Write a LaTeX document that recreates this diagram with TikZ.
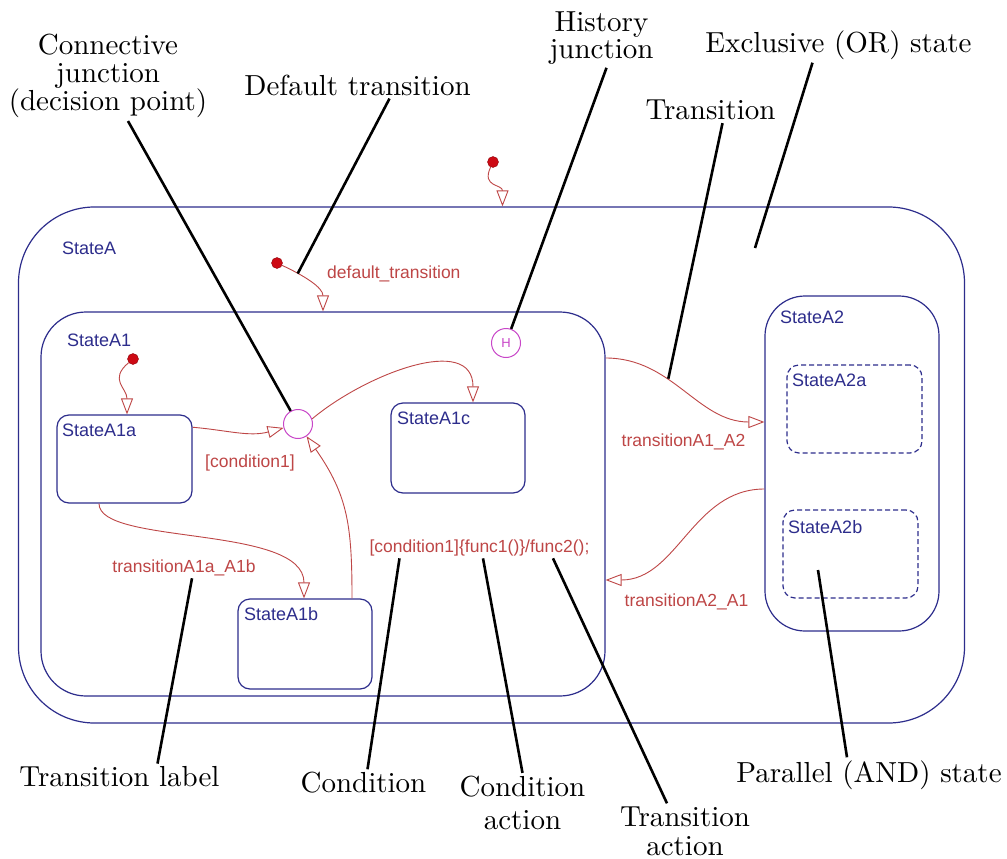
\documentclass[tikz,border=0pt]{standalone}
\usepackage{fontspec}
\newfontfamily\sansfnt{Liberation Sans}
\newfontfamily\notefnt{lmroman10-regular.otf}
\usepackage{tikz}
\usetikzlibrary{positioning}
\usetikzlibrary{calc,arrows.meta}
\definecolor{stblue}{RGB}{45,45,140}
\definecolor{trred}{RGB}{190,70,70}
\definecolor{jmag}{RGB}{200,70,200}
\definecolor{dotred}{RGB}{205,10,20}

\begin{document}
\begin{tikzpicture}[x=1pt,y=-1pt,
  stbox/.style={draw=stblue,line width=1.2pt,rounded corners=12pt,inner sep=0pt},
  substbox/.style={stbox,dashed,dash pattern=on 5pt off 3pt},
  junc/.style={shape=circle,draw=jmag,line width=1pt,minimum size=29pt,inner sep=0pt},
  inidot/.style={shape=circle,fill=dotred,draw=dotred!70!black,minimum size=11pt,inner sep=0pt},
  trans/.style={draw=trred,line width=0.9pt,-{Triangle[open,length=16pt,width=12pt]}},
  stlbl/.style={text=stblue,font=\sansfnt\fontsize{18}{20}\selectfont,inner sep=0pt,anchor=west},
  trlbl/.style={text=trred,font=\sansfnt\fontsize{17.5}{20}\selectfont,inner sep=2pt},
  note/.style={font=\notefnt\fontsize{29}{28}\selectfont,align=center,inner sep=3pt},
  lead/.style={draw=black,line width=2.6pt}]
\path[fill=white] (0,0) rectangle (1007,859);
\useasboundingbox (0,0) rectangle (1007,859);
% states and junctions
\path
(491.5,465) node [stbox,minimum width=946pt,minimum height=516pt,rounded corners=76pt](sA){}
(323,504) node [stbox,minimum width=564pt,minimum height=384pt,rounded corners=45pt](sA1){}
(124.5,459) node [stbox,minimum width=135pt,minimum height=88pt](sA1a){}
(305,644) node [stbox,minimum width=134pt,minimum height=90pt](sA1b){}
(458,448) node [stbox,minimum width=134pt,minimum height=90pt](sA1c){}
(852,463.5) node [stbox,minimum width=174pt,minimum height=335pt,rounded corners=40pt](sA2){}
(854.5,409) node [substbox,minimum width=135pt,minimum height=88pt](sA2a){}
(850.5,554) node [substbox,minimum width=135pt,minimum height=88pt](sA2b){}
(506,343) node [junc,text=jmag,font=\sansfnt\fontsize{13}{13}\selectfont](hj){H}
(298,424) node [junc](cj){}
(493,162) node [inidot](d0){}
(277,263) node [inidot](d1){}
(133,359) node [inidot](d2){};
\path
(62,248) node [stlbl](lA){StateA}
(67,340) node [stlbl](lA1){StateA1}
(62,430) node [stlbl](lA1a){StateA1a}
(244,614) node [stlbl](lA1b){StateA1b}
(397,418) node [stlbl](lA1c){StateA1c}
(780,317) node [stlbl](lA2){StateA2}
(792,380) node [stlbl](lA2a){StateA2a}
(788,527) node [stlbl](lA2b){StateA2b};
% transitions
\draw [trans](d0) to[out=-115,in=90,looseness=1.4] ([xshift=11pt]sA.north);
\draw [trans](d1) to[out=-25,in=90] coordinate[pos=0.25](dtpt) (sA1.north);
\draw [trans](d2) to[out=-140,in=90,looseness=1.3] ([xshift=2.5pt]sA1a.north);
\draw [trans](sA1a.25) to[out=-5,in=195] (cj);
\draw [trans](cj.20) to[out=40,in=90,looseness=1.1] ([xshift=15pt]sA1c.north);
\draw [trans]([xshift=-25.5pt]sA1a.south) .. controls +(0,42) and +(0,-74) .. ([xshift=-1pt]sA1b.north);
\draw [trans]([xshift=47pt]sA1b.north) to[out=90,in=-55,looseness=1.1] (cj);
\draw [trans]([yshift=146pt]sA1.east) to[out=0,in=180] coordinate[pos=0.38](trpt) ([yshift=41.5pt]sA2.west);
\draw [trans]([yshift=-25.5pt]sA2.west) to[out=180,in=0] ([yshift=-76pt]sA1.east);
\path
(325,274) node [trlbl,anchor=west](dtlbl){default\_transition}
(250,463) node [trlbl](c1lbl){[condition1]}
(184,568) node [trlbl](t1blbl){transitionA1a\_A1b}
(479.5,548) node [trlbl](cflbl){[condition1]\{func1()\}/func2();}
(683.5,442) node [trlbl](t12lbl){transitionA1\_A2}
(686.5,602) node [trlbl](t21lbl){transitionA2\_A1};
% notes
\coordinate (orpt) at (755,248);
\coordinate (andpt) at (818,570);
\path
(108,76) node [note](cjnote){Connective\\junction\\(decision point)}
(357.5,85) node [note](dtnote){Default transition}
(601.5,38) node [note,font=\notefnt\fontsize{29}{27.5}\selectfont](hjnote){History\\junction}
(838.5,45) node [note](orsnote){Exclusive (OR) state}
(710.5,110) node [note](trnote){Transition}
(119.5,777) node [note](tlnote){Transition label}
(363.5,783) node [note](cndnote){Condition}
(522.5,803) node [note,font=\notefnt\fontsize{29}{33}\selectfont](canote){Condition\\action}
(685,831) node [note,font=\notefnt\fontsize{29}{29}\selectfont](tanote){Transition\\action}
(869,775) node [note](annote){Parallel (AND) state};
\draw [lead]([xshift=20pt]cjnote.south) -- (cj);
\draw [lead]([xshift=32pt]dtnote.south) -- (dtpt);
\draw [lead]([xshift=5pt]hjnote.south) -- (hj);
\draw [lead]([xshift=-26pt]orsnote.south) -- (orpt);
\draw [lead]([xshift=12pt]trnote.south) -- (trpt);
\draw [lead]([xshift=38pt]tlnote.north) -- ([xshift=8pt]t1blbl.south);
\draw [lead]([xshift=4pt]cndnote.north) -- ([xshift=-80pt]cflbl.south);
\draw [lead](canote.north) -- ([xshift=3.5pt]cflbl.south);
\draw [lead]([xshift=-18pt]tanote.north) -- ([xshift=73.5pt]cflbl.south);
\draw [lead]([xshift=-22pt]annote.north) -- (andpt);
\end{tikzpicture}
\end{document}
